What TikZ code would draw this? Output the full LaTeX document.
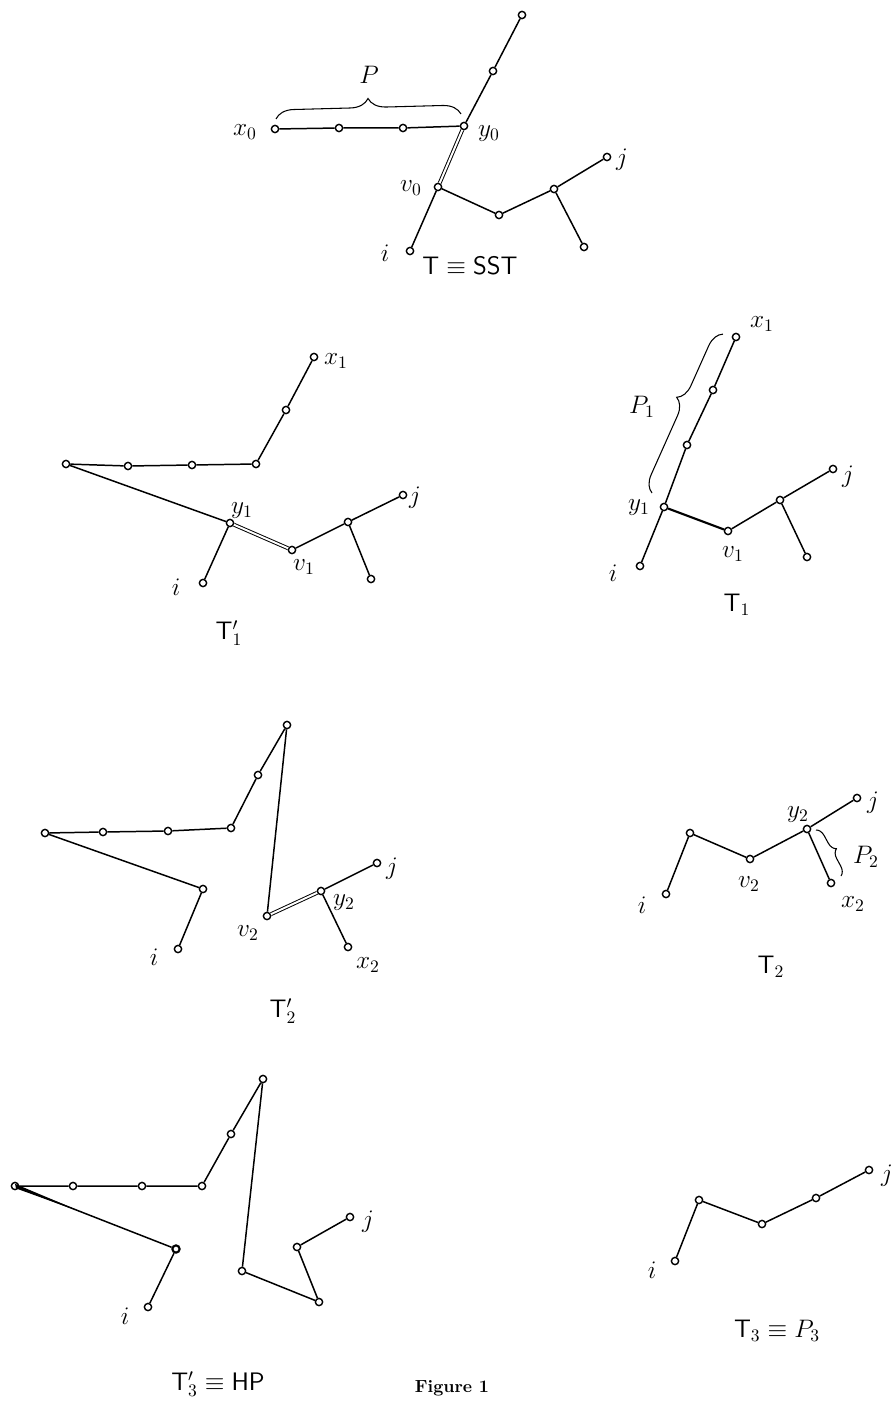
\documentclass[tikz,border=0pt]{standalone}
\usetikzlibrary{calc,decorations.pathreplacing}
\begin{document}
\begin{tikzpicture}[x=0.2mm,y=-0.2mm,
  v/.style={circle,draw,inner sep=0pt,minimum size=1.45mm,line width=0.8pt,fill=white},
  e/.style={line width=0.85pt},
  dbl/.style={double,double distance=1.1pt,line width=0.55pt},
  lab/.style={font=\Large,inner sep=0pt},
  captxt/.style={font=\Large,inner sep=0pt},
  br/.style={decorate,line width=0.6pt}]
\useasboundingbox (0,0) rectangle (894,1405);
% ---------- Panel 1: T = SST
\node[v] (a1) at (275,129) {};
\node[v] (a2) at (339,128) {};
\node[v] (a3) at (403,128) {};
\node[v] (ay) at (464,126) {};
\node[v] (at1) at (493,71) {};
\node[v] (at2) at (522,15) {};
\node[v] (av) at (438,187) {};
\node[v] (ai) at (410,251) {};
\node[v] (ab1) at (499,215) {};
\node[v] (ab2) at (554,189) {};
\node[v] (aj) at (607,157) {};
\node[v] (ab3) at (584,247) {};
\draw[e] (a1)--(a2)--(a3)--(ay)--(at1)--(at2);
\draw[dbl] (ay)--(av);
\draw[e] (av)--(ai);
\draw[e] (av)--(ab1)--(ab2)--(aj);
\draw[e] (ab2)--(ab3);
\coordinate (pa) at (276,119);
\coordinate (pb) at (461,114);
\draw[br,decoration={brace,amplitude=3.6mm}] (pa)--(pb);
\node[lab] (lP) at (369,75) {$P$};
\node[lab] (lx0) at (245,132) {$x_0$};
\node[lab] (ly0) at (489,134) {$y_0$};
\node[lab] (lv0) at (411,188) {$v_0$};
\node[lab] (li0) at (385,253) {$i$};
\node[lab] (lj0) at (622,160) {$j$};
\node[captxt] (c0) at (470,266) {$\mathsf{T}\equiv \mathsf{SST}$};
% ---------- Panel 2: T1'
\node[v] (b1) at (314,357) {};
\node[v] (b2) at (286,410) {};
\node[v] (b3) at (256,464) {};
\node[v] (b4) at (192,465) {};
\node[v] (b5) at (128,466) {};
\node[v] (b6) at (66,464) {};
\node[v] (by) at (230,523) {};
\node[v] (bv) at (292,550) {};
\node[v] (bi) at (203,583) {};
\node[v] (bb1) at (348,522) {};
\node[v] (bj) at (403,495) {};
\node[v] (bb2) at (371,579) {};
\draw[e] (b1)--(b2)--(b3)--(b4)--(b5)--(b6)--(by)--(bi);
\draw[dbl] (by)--(bv);
\draw[e] (bv)--(bb1)--(bj);
\draw[e] (bb1)--(bb2);
\node[lab] (lx1) at (336,361) {$x_1$};
\node[lab] (ly1) at (242,511) {$y_1$};
\node[lab] (lv1) at (304,567) {$v_1$};
\node[lab] (li1) at (176,587) {$i$};
\node[lab] (lj1) at (415,498) {$j$};
\node[captxt] (c1) at (229,633) {$\mathsf{T}_1'$};
% ---------- Panel 3: T1
\node[v] (c1x) at (736,337) {};
\node[v] (c2) at (713,390) {};
\node[v] (c3) at (687,445) {};
\node[v] (cy) at (664,507) {};
\node[v] (ci) at (640,566) {};
\node[v] (cv) at (728,531) {};
\node[v] (cb1) at (780,500) {};
\node[v] (cj) at (833,469) {};
\node[v] (cb2) at (807,557) {};
\draw[e] (c1x)--(c2)--(c3)--(cy)--(ci);
\draw[line width=1.2pt] (cy)--(cv);
\draw[e] (cv)--(cb1)--(cj);
\draw[e] (cb1)--(cb2);
\coordinate (p1a) at (652,493);
\coordinate (p1b) at (723,334);
\draw[br,decoration={brace,amplitude=3.3mm,aspect=0.56}] (p1a)--(p1b);
\node[lab] (lP1) at (642,407) {$P_1$};
\node[lab] (lx1b) at (762,324) {$x_1$};
\node[lab] (ly1b) at (639,508) {$y_1$};
\node[lab] (lv1b) at (733,554) {$v_1$};
\node[lab] (li1b) at (613,573) {$i$};
\node[lab] (lj1b) at (848,477) {$j$};
\node[captxt] (c1b) at (737,605) {$\mathsf{T}_1$};
% ---------- Panel 4: T2'
\node[v] (d1) at (287,725) {};
\node[v] (d2) at (258,775) {};
\node[v] (d3) at (231,828) {};
\node[v] (d4) at (168,831) {};
\node[v] (d5) at (103,832) {};
\node[v] (d6) at (45,833) {};
\node[v] (d7) at (203,889) {};
\node[v] (di) at (178,949) {};
\node[v] (dv) at (267,916) {};
\node[v] (dy) at (321,891) {};
\node[v] (dj) at (377,863) {};
\node[v] (dx) at (348,947) {};
\draw[e] (di)--(d7)--(d6)--(d5)--(d4)--(d3)--(d2)--(d1)--(dv);
\draw[dbl] (dv)--(dy);
\draw[e] (dy)--(dj);
\draw[e] (dy)--(dx);
\node[lab] (li2) at (154,957) {$i$};
\node[lab] (lv2) at (248,933) {$v_2$};
\node[lab] (ly2) at (344,903) {$y_2$};
\node[lab] (lx2) at (368,965) {$x_2$};
\node[lab] (lj2) at (392,869) {$j$};
\node[captxt] (c2cap) at (283,1011) {$\mathsf{T}_2'$};
% ---------- Panel 5: T2
\node[v] (ei) at (666,894) {};
\node[v] (e1) at (690,833) {};
\node[v] (ev) at (750,859) {};
\node[v] (ey) at (807,829) {};
\node[v] (ej) at (857,798) {};
\node[v] (ex) at (831,883) {};
\draw[e] (ei)--(e1)--(ev)--(ey)--(ej);
\draw[e] (ey)--(ex);
\coordinate (p2a) at (816,830);
\coordinate (p2b) at (841,876);
\draw[br,decoration={brace,amplitude=1.8mm}] (p2a)--(p2b);
\node[lab] (lP2) at (866,857) {$P_2$};
\node[lab] (li2b) at (642,905) {$i$};
\node[lab] (lv2b) at (749,884) {$v_2$};
\node[lab] (ly2b) at (798,815) {$y_2$};
\node[lab] (lx2b) at (853,904) {$x_2$};
\node[lab] (lj2b) at (873,803) {$j$};
\node[captxt] (c2b) at (771,967) {$\mathsf{T}_2$};
% ---------- Panel 6: T3' = HP
\node[v] (f0) at (15,1186) {};
\node[v] (f1) at (73,1186) {};
\node[v] (f2) at (142,1186) {};
\node[v] (f3) at (202,1186) {};
\node[v] (f4) at (231,1134) {};
\node[v] (f5) at (263,1079) {};
\node[v] (f6) at (242,1271) {};
\node[v] (f7) at (319,1302) {};
\node[v] (f8) at (297,1247) {};
\node[v] (fj) at (350,1217) {};
\node[v,line width=1.2pt] (fa) at (176,1249) {};
\node[v] (fi) at (148,1307) {};
\draw[e] (fi)--(fa)--(f0)--(f1)--(f2)--(f3)--(f4)--(f5)--(f6)--(f7)--(f8)--(fj);
\fill ($(f0)+(0,-2.2)$) -- ($(f0)!0.45!(fa)$) -- ($(f0)+(1,2.4)$) -- cycle;
\node[lab] (li3) at (125,1316) {$i$};
\node[lab] (lj3) at (368,1222) {$j$};
\node[captxt] (c3cap) at (218,1384) {$\mathsf{T}_3'\equiv \mathsf{HP}$};
\node[font=\bfseries,inner sep=0pt] (fig) at (452,1388) {Figure 1};
% ---------- Panel 7: T3 = P3
\node[v] (gi) at (675,1261) {};
\node[v] (g1) at (699,1200) {};
\node[v] (g2) at (762,1224) {};
\node[v] (g3) at (816,1198) {};
\node[v] (gj) at (869,1170) {};
\draw[e] (gi)--(g1)--(g2)--(g3)--(gj);
\node[lab] (li4) at (652,1270) {$i$};
\node[lab] (lj4) at (887,1176) {$j$};
\node[captxt] (c4) at (777,1331) {$\mathsf{T}_3\equiv P_3$};
\end{tikzpicture}
\end{document}
